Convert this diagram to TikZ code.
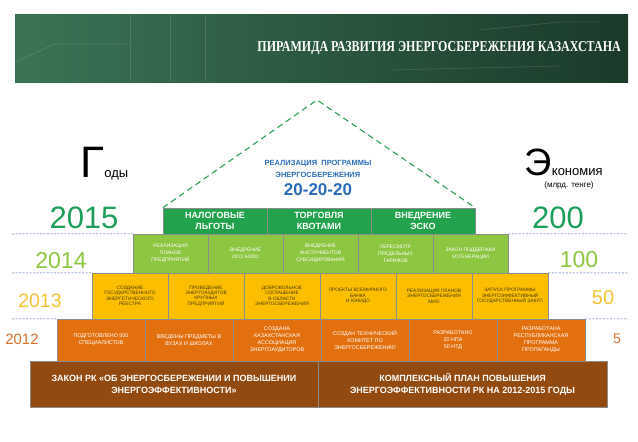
\documentclass[tikz,border=0pt]{standalone}
\usepackage{fontspec}
\setmainfont{Liberation Sans}
\newfontfamily\titlefont{Liberation Serif}[FakeStretch=0.8]
\definecolor{bandark}{HTML}{1B3A2A}
\definecolor{banmid}{HTML}{2D5E44}
\definecolor{banlight}{HTML}{3A7455}
\definecolor{topgreen}{HTML}{22A24D}
\definecolor{lawngreen}{HTML}{8DC641}
\definecolor{amber}{HTML}{FCBF00}
\definecolor{rust}{HTML}{E2700F}
\definecolor{brownbase}{HTML}{924A10}
\definecolor{roofgreen}{HTML}{2E9F58}
\definecolor{roofblue}{HTML}{2B6CB8}
\definecolor{yrfive}{HTML}{1E9E5B}
\definecolor{yrfour}{HTML}{8DC641}
\definecolor{yrthree}{HTML}{F3C232}
\definecolor{yrtwo}{HTML}{D9712B}
\definecolor{guideblue}{HTML}{3D5F9E}
\definecolor{olivetext}{HTML}{4B3B0B}
\begin{document}
\begin{tikzpicture}[x=1pt,y=-1pt,
  tier/.style={draw=black!45, line width=0.5pt, inner sep=0pt, align=center},
  roofrow/.style={tier, fill=topgreen, text=white, minimum width=104pt, minimum height=26pt, font=\bfseries\fontsize{9}{10.5}\selectfont},
  greenrow/.style={tier, fill=lawngreen, text=white, minimum width=75pt, minimum height=39pt, font=\fontsize{5}{7}\selectfont},
  yellowrow/.style={tier, fill=amber, text=olivetext, minimum width=76pt, minimum height=46pt, font=\fontsize{4.8}{5.4}\selectfont},
  orangerow/.style={tier, fill=rust, text=white, minimum width=88pt, minimum height=42pt, font=\fontsize{5.4}{7}\selectfont},
  baserow/.style={tier, fill=brownbase, text=white, minimum height=46pt, font=\bfseries\fontsize{9}{12}\selectfont},
  guide/.style={guideblue, line width=0.5pt, dash pattern=on 2pt off 1.5pt},
  banline/.style={white, opacity=0.12, line width=0.8pt},
  year/.style={inner sep=0pt}]
\useasboundingbox (0,0) rectangle (638,442);
% banner
\node[shading=axis, left color=banlight, middle color=banmid, right color=bandark, minimum width=613pt, minimum height=68pt, inner sep=0pt] (banner) at (321.5,48) {};
\draw[banline] (15,62) -- (55,44) -- (130,44);
\draw[banline] (130,14) -- (130,82);
\draw[banline] (170,14) -- (170,82);
\draw[banline] (205,14) -- (205,82);
\draw[banline] (480,30) -- (560,22) -- (600,22);
\draw[banline] (390,70) -- (560,66);
\node[anchor=east, text=white, font=\titlefont\bfseries\fontsize{15}{16}\selectfont, inner sep=0pt] (title) at (621,48) {ПИРАМИДА РАЗВИТИЯ ЭНЕРГОСБЕРЕЖЕНИЯ КАЗАХСТАНА};
% pyramid rows
\node[roofrow] (t1) at (215,221) {НАЛОГОВЫЕ\\ЛЬГОТЫ};
\node[roofrow] (t2) at (319,221) {ТОРГОВЛЯ\\КВОТАМИ};
\node[roofrow] (t3) at (423,221) {ВНЕДРЕНИЕ\\ЭСКО};
\node[greenrow] (g1) at (170.5,253.5) {РЕАЛИЗАЦИЯ\\ПЛАНОВ\\ПРЕДПРИЯТИЙ};
\node[greenrow] (g2) at (245.5,253.5) {ВНЕДРЕНИЕ\\ИСО 50001};
\node[greenrow] (g3) at (320.5,253.5) {ВНЕДРЕНИЕ\\ИНСТРУМЕНТОВ\\СУБСИДИРОВАНИЯ};
\node[greenrow] (g4) at (395.5,253.5) {ПЕРЕСМОТР\\ПРЕДЕЛЬНЫХ\\ТАРИФОВ};
\node[greenrow] (g5) at (470.5,253.5) {ЗАКОН ПОДДЕРЖКИ\\КОГЕНЕРАЦИИ};
\node[yellowrow] (y1) at (130,296) {СОЗДАНИЕ\\ГОСУДАРСТВЕННОГО\\ЭНЕРГЕТИЧЕСКОГО\\РЕЕСТРА};
\node[yellowrow] (y2) at (206,296) {ПРОВЕДЕНИЕ\\ЭНЕРГОАУДИТОВ\\КРУПНЫХ\\ПРЕДПРИЯТИЙ};
\node[yellowrow] (y3) at (282,296) {ДОБРОВОЛЬНОЕ\\СОГЛАШЕНИЕ\\В ОБЛАСТИ\\ЭНЕРГОСБЕРЕЖЕНИЯ};
\node[yellowrow] (y4) at (358,296) {ПРОЕКТЫ ВСЕМИРНОГО\\БАНКА\\И ЮНИДО};
\node[yellowrow] (y5) at (434,296) {РЕАЛИЗАЦИЯ ПЛАНОВ\\ЭНЕРГОСБЕРЕЖЕНИЯ\\МИО};
\node[yellowrow] (y6) at (510,296) {ЗАПУСК ПРОГРАММЫ\\ЭНЕРГОЭФФЕКТИВНЫЙ\\ГОСУДАРСТВЕННЫЙ ЗАКУП};
\node[orangerow] (o1) at (101,340) {ПОДГОТОВЛЕНО 500\\СПЕЦИАЛИСТОВ};
\node[orangerow] (o2) at (189,340) {ВВЕДЕНЫ ПРЕДМЕТЫ В\\ВУЗАХ И ШКОЛАХ};
\node[orangerow] (o3) at (277,340) {СОЗДАНА\\КАЗАХСТАНСКАЯ\\АССОЦИАЦИЯ\\ЭНЕРГОАУДИТОРОВ};
\node[orangerow] (o4) at (365,340) {СОЗДАН ТЕХНИЧЕСКИЙ\\КОМИТЕТ ПО\\ЭНЕРГОСБЕРЕЖЕНИЮ};
\node[orangerow] (o5) at (453,340) {РАЗРАБОТАНО\\20 НПА\\50 НТД};
\node[orangerow] (o6) at (541,340) {РАЗРАБОТАНА\\РЕСПУБЛИКАНСКАЯ\\ПРОГРАММА\\ПРОПАГАНДЫ};
\node[baserow, minimum width=288pt] (b1) at (174,384) {ЗАКОН РК «ОБ ЭНЕРГОСБЕРЕЖЕНИИ И ПОВЫШЕНИИ\\ЭНЕРГОЭФФЕКТИВНОСТИ»};
\node[baserow, minimum width=289pt] (b2) at (462.5,384) {КОМПЛЕКСНЫЙ ПЛАН ПОВЫШЕНИЯ\\ЭНЕРГОЭФФЕКТИВНОСТИ РК НА 2012-2015 ГОДЫ};
% dashed roof
\coordinate (apex) at (317,100);
\draw[roofgreen, line width=1.1pt, dash pattern=on 6pt off 4pt] (t1.north west) -- (apex) -- (t3.north east);
\node[text=roofblue, font=\bfseries\fontsize{7.5}{11.5}\selectfont, align=center] (roofnote) at (318,169) {РЕАЛИЗАЦИЯ\ \ ПРОГРАММЫ\\ЭНЕРГОСБЕРЕЖЕНИЯ};
\node[text=roofblue, font=\bfseries\fontsize{17}{17}\selectfont] (roofnum) at (318,190) {20-20-20};
% years
\node[anchor=base west, inner sep=0pt, font=\fontsize{44}{44}\selectfont] (gbig) at (80,177) {Г};
\node[anchor=base west, inner sep=0pt, font=\fontsize{13}{13}\selectfont] (gsmall) at (gbig.base east) {оды};
\node[year, text=yrfive, font=\fontsize{31}{31}\selectfont] (y2015) at (84,218) {2015};
\node[year, text=yrfour, font=\fontsize{23}{23}\selectfont] (y2014) at (61,261) {2014};
\node[year, text=yrthree, font=\fontsize{19.5}{19.5}\selectfont] (y2013) at (40,301) {2013};
\node[year, text=yrtwo, font=\fontsize{15}{15}\selectfont] (y2012) at (22,339) {2012};
% savings
\node[anchor=base west, inner sep=0pt, font=\fontsize{38}{38}\selectfont] (ebig) at (524,175) {Э};
\node[anchor=base west, inner sep=0pt, font=\fontsize{13}{13}\selectfont] (esmall) at (ebig.base east) {кономия};
\node[inner sep=0pt, font=\fontsize{8}{8}\selectfont] (unit) at (569,185) {(млрд. тенге)};
\node[year, text=yrfive, font=\fontsize{31}{31}\selectfont] (s200) at (558,218) {200};
\node[year, text=yrfour, font=\fontsize{23}{23}\selectfont] (s100) at (579,260) {100};
\node[year, text=yrthree, font=\fontsize{20}{20}\selectfont] (s50) at (603,298) {50};
\node[year, text=yrtwo, font=\fontsize{14}{14}\selectfont] (s5) at (617,339) {5};
% guide lines
\coordinate (la) at (12,234);
\coordinate (lb) at (12,273);
\coordinate (lc) at (12,319);
\coordinate (ra) at (628,234);
\coordinate (rb) at (628,273);
\coordinate (rc) at (628,319);
\draw[guide] (la) -- (g1.north west);
\draw[guide] (lb) -- (y1.north west);
\draw[guide] (lc) -- (o1.north west);
\draw[guide] (g5.north east) -- (ra);
\draw[guide] (y6.north east) -- (rb);
\draw[guide] (o6.north east) -- (rc);
\end{tikzpicture}
\end{document}
